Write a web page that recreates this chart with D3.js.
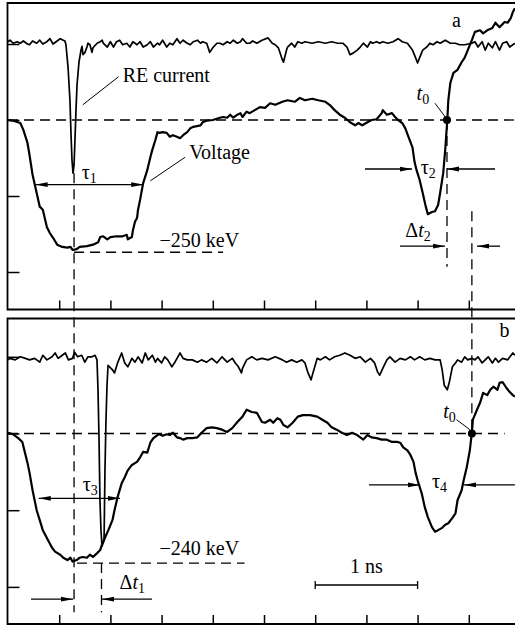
<!DOCTYPE html>
<html>
<head>
<meta charset="utf-8">
<title>RE current and voltage</title>
<script src="https://d3js.org/d3.v7.min.js"></script>
<style>
  body { margin: 0; background: #fff; }
  text { font-family: "Liberation Serif", "Times New Roman", serif; font-size: 20px; fill: #000; }
</style>
</head>
<body>
<script>
// time in ns, signals in scope divisions (0 = base line)
var tickTimes = [0.5, 1, 1.5, 2, 2.5, 3, 3.5, 4, 4.5];
var tickDivs = [-2, -1, 0, 1];

// panel a
var curA = [[0.00,1.03],[0.02,1.05],[0.05,1.01],[0.09,1.03],[0.12,1.01],[0.15,1.04],[0.19,1.00],[0.21,0.99],
  [0.24,1.04],[0.28,1.01],[0.31,1.05],[0.34,1.00],[0.38,1.03],[0.41,1.07],[0.44,1.00],[0.48,1.04],[0.51,1.07],
  [0.54,1.05],[0.556,1.04],[0.566,0.99],[0.586,0.70],[0.605,0.26],[0.615,-0.17],[0.625,-0.53],[0.635,-0.70],
  [0.645,-0.59],[0.654,-0.26],[0.664,0.13],[0.674,0.46],[0.693,0.76],[0.713,0.92],[0.723,0.97],[0.732,0.86],
  [0.752,0.89],[0.771,0.96],[0.781,1.01],[0.80,0.99],[0.82,0.89],[0.83,0.95],[0.87,1.01],[0.90,1.03],[0.92,1.05],
  [0.93,1.01],[0.97,0.96],[1.00,1.03],[1.03,0.96],[1.06,1.03],[1.09,1.05],[1.12,0.99],[1.16,1.01],[1.19,0.96],
  [1.22,1.03],[1.26,0.99],[1.29,1.03],[1.32,0.96],[1.36,0.99],[1.39,1.03],[1.42,0.96],[1.46,1.01],[1.48,0.99],
  [1.51,1.05],[1.55,0.96],[1.58,1.01],[1.61,0.99],[1.65,1.07],[1.68,1.01],[1.71,1.05],[1.75,1.01],[1.78,0.99],
  [1.81,1.03],[1.85,1.05],[1.88,1.01],[1.90,1.03],[1.94,1.01],[1.97,0.89],[2.00,0.95],[2.04,1.01],[2.07,1.01],
  [2.10,0.99],[2.14,1.03],[2.17,1.01],[2.20,1.05],[2.24,1.01],[2.27,1.03],[2.29,1.07],[2.33,1.01],[2.36,1.01],
  [2.39,1.04],[2.43,1.01],[2.48,1.05],[2.54,1.08],[2.58,1.01],[2.61,0.99],[2.64,0.95],[2.68,0.79],[2.69,0.76],
  [2.72,0.92],[2.73,0.96],[2.77,1.01],[2.80,0.96],[2.83,1.03],[2.87,1.01],[2.90,1.03],[2.97,1.01],[3.03,1.03],
  [3.10,1.01],[3.16,1.03],[3.22,1.01],[3.27,1.01],[3.31,0.96],[3.34,0.86],[3.37,0.88],[3.41,0.92],[3.44,0.96],
  [3.47,1.01],[3.51,0.96],[3.54,1.03],[3.56,1.01],[3.60,1.03],[3.63,1.01],[3.66,1.03],[3.71,1.01],[3.76,1.03],
  [3.81,1.07],[3.85,1.03],[3.90,1.01],[3.95,0.92],[3.98,0.82],[4.00,0.75],[4.02,0.82],[4.05,0.92],[4.09,0.96],
  [4.12,1.01],[4.15,0.99],[4.19,1.03],[4.22,1.01],[4.27,1.05],[4.32,1.01],[4.37,1.01],[4.41,0.99],[4.46,0.99],
  [4.53,1.01],[4.56,1.03],[4.59,0.96],[4.63,1.03],[4.66,0.92],[4.69,1.01],[4.73,0.95],[4.76,1.03],[4.80,0.92],
  [4.83,1.01],[4.87,1.03],[4.90,0.96],[4.95,1.01]];

var volA = [[0.00,0.00],[0.05,-0.01],[0.12,-0.04],[0.15,-0.13],[0.19,-0.30],[0.21,-0.46],[0.24,-0.72],[0.28,-0.96],
  [0.31,-1.14],[0.34,-1.18],[0.38,-1.41],[0.41,-1.49],[0.44,-1.55],[0.48,-1.64],[0.53,-1.67],[0.58,-1.68],
  [0.61,-1.67],[0.63,-1.71],[0.67,-1.70],[0.70,-1.67],[0.77,-1.66],[0.83,-1.64],[0.88,-1.61],[0.90,-1.54],
  [0.93,-1.53],[0.97,-1.57],[1.00,-1.54],[1.06,-1.53],[1.12,-1.53],[1.16,-1.51],[1.17,-1.57],[1.21,-1.54],
  [1.22,-1.45],[1.24,-1.34],[1.26,-1.29],[1.27,-1.18],[1.29,-1.05],[1.32,-0.83],[1.36,-0.66],[1.39,-0.49],
  [1.41,-0.39],[1.44,-0.26],[1.46,-0.16],[1.48,-0.17],[1.51,-0.16],[1.55,-0.17],[1.58,-0.22],[1.61,-0.20],
  [1.65,-0.22],[1.68,-0.24],[1.71,-0.20],[1.75,-0.16],[1.78,-0.11],[1.81,-0.09],[1.88,-0.07],[1.90,-0.03],
  [1.94,-0.01],[2.00,0.00],[2.07,0.03],[2.10,0.04],[2.14,0.03],[2.17,0.07],[2.20,0.03],[2.24,0.07],[2.27,0.09],
  [2.29,0.04],[2.33,0.11],[2.36,0.09],[2.41,0.13],[2.46,0.17],[2.51,0.16],[2.56,0.22],[2.61,0.20],[2.68,0.24],
  [2.73,0.26],[2.80,0.24],[2.85,0.29],[2.90,0.26],[2.97,0.28],[3.03,0.26],[3.10,0.24],[3.14,0.20],[3.19,0.13],
  [3.24,0.07],[3.29,0.03],[3.34,-0.03],[3.39,-0.07],[3.42,-0.04],[3.46,-0.07],[3.51,-0.03],[3.55,0.00],
  [3.60,0.01],[3.65,0.09],[3.66,0.13],[3.70,0.07],[3.75,0.09],[3.78,0.04],[3.81,0.00],[3.85,-0.04],[3.88,-0.11],
  [3.91,-0.22],[3.95,-0.36],[3.97,-0.55],[3.99,-0.66],[4.02,-0.79],[4.05,-0.96],[4.08,-1.14],[4.10,-1.24],
  [4.14,-1.21],[4.17,-1.20],[4.20,-1.12],[4.22,-0.96],[4.25,-0.70],[4.27,-0.39],[4.29,0.00],[4.30,0.26],
  [4.32,0.49],[4.35,0.62],[4.39,0.66],[4.43,0.76],[4.46,0.82],[4.49,0.92],[4.53,1.05],[4.56,1.16],[4.61,1.18],
  [4.64,1.14],[4.68,1.18],[4.73,1.21],[4.76,1.28],[4.80,1.22],[4.85,1.29],[4.88,1.28],[4.91,1.34],[4.93,1.42],
  [4.95,1.47]];

// panel b
var curB = [[0.00,0.96],[0.02,0.98],[0.07,0.96],[0.12,1.00],[0.17,0.98],[0.21,0.96],[0.26,0.98],[0.31,0.93],
  [0.34,1.02],[0.38,0.96],[0.43,1.00],[0.46,1.05],[0.49,0.98],[0.53,1.02],[0.56,1.05],[0.59,0.96],[0.63,0.98],
  [0.65,1.06],[0.68,1.00],[0.72,1.02],[0.75,0.93],[0.78,1.00],[0.82,1.00],[0.85,1.02],[0.869,0.96],[0.879,0.57],
  [0.889,-0.08],[0.898,-0.87],[0.908,-1.26],[0.918,-1.47],[0.938,-1.39],[0.947,-0.48],[0.957,0.18],[0.967,0.63],
  [0.977,0.89],[1.02,0.83],[1.04,0.79],[1.07,0.92],[1.11,1.05],[1.14,0.92],[1.17,0.87],[1.21,0.98],[1.24,0.93],
  [1.27,1.00],[1.31,0.92],[1.34,1.05],[1.37,0.96],[1.41,1.02],[1.44,0.93],[1.46,0.98],[1.50,0.92],[1.53,1.00],
  [1.56,0.96],[1.60,0.87],[1.63,0.93],[1.68,1.05],[1.71,0.98],[1.75,0.96],[1.80,0.96],[1.85,0.93],[1.89,0.96],
  [1.94,0.93],[1.99,0.98],[2.04,0.92],[2.09,1.00],[2.14,0.93],[2.19,0.98],[2.22,0.92],[2.25,0.87],[2.28,0.79],
  [2.29,0.85],[2.33,0.96],[2.38,1.00],[2.43,0.96],[2.48,0.98],[2.54,0.96],[2.61,1.00],[2.68,0.96],[2.72,0.93],
  [2.77,0.96],[2.82,0.93],[2.87,0.96],[2.90,0.92],[2.93,0.79],[2.96,0.70],[2.98,0.80],[3.02,0.98],[3.05,0.96],
  [3.10,1.00],[3.14,0.96],[3.19,1.00],[3.24,1.02],[3.29,1.05],[3.34,1.02],[3.39,0.98],[3.44,1.00],[3.49,0.93],
  [3.54,0.98],[3.58,0.92],[3.61,0.80],[3.63,0.76],[3.66,0.85],[3.70,0.96],[3.73,1.00],[3.78,0.93],[3.83,0.98],
  [3.88,0.96],[3.93,1.00],[3.97,0.96],[4.02,1.00],[4.07,0.96],[4.12,0.98],[4.17,0.96],[4.22,0.96],[4.24,0.83],
  [4.26,0.63],[4.29,0.57],[4.31,0.67],[4.34,0.87],[4.37,0.92],[4.39,0.96],[4.43,0.93],[4.46,1.00],[4.49,0.96],
  [4.53,0.98],[4.56,0.96],[4.59,1.00],[4.63,0.92],[4.66,0.96],[4.69,1.00],[4.73,0.92],[4.76,0.98],[4.79,0.93],
  [4.83,0.98],[4.88,0.96],[4.93,1.05],[4.95,1.02]];

var volB = [[0.00,0.01],[0.05,-0.01],[0.10,-0.06],[0.14,-0.11],[0.16,-0.22],[0.19,-0.38],[0.21,-0.51],[0.24,-0.74],
  [0.28,-1.00],[0.31,-1.13],[0.34,-1.26],[0.39,-1.39],[0.43,-1.49],[0.46,-1.54],[0.51,-1.58],[0.54,-1.62],
  [0.58,-1.65],[0.61,-1.62],[0.63,-1.67],[0.67,-1.65],[0.70,-1.62],[0.73,-1.61],[0.77,-1.62],[0.80,-1.58],
  [0.83,-1.61],[0.87,-1.56],[0.90,-1.52],[0.92,-1.44],[0.95,-1.35],[0.98,-1.26],[1.02,-1.13],[1.04,-1.00],
  [1.07,-0.83],[1.11,-0.65],[1.14,-0.57],[1.17,-0.48],[1.21,-0.41],[1.26,-0.37],[1.29,-0.31],[1.32,-0.24],
  [1.36,-0.25],[1.39,-0.12],[1.42,-0.06],[1.46,-0.02],[1.48,-0.01],[1.51,-0.03],[1.55,-0.01],[1.58,-0.02],
  [1.61,0.01],[1.65,-0.05],[1.68,-0.06],[1.71,-0.08],[1.75,-0.06],[1.80,-0.06],[1.85,-0.05],[1.89,0.01],
  [1.94,0.07],[1.99,0.08],[2.04,0.07],[2.09,0.05],[2.14,0.02],[2.19,0.07],[2.24,0.15],[2.29,0.22],[2.33,0.31],
  [2.38,0.28],[2.43,0.27],[2.48,0.15],[2.51,0.14],[2.56,0.18],[2.59,0.14],[2.63,0.20],[2.66,0.18],[2.69,0.11],
  [2.73,0.08],[2.78,0.14],[2.83,0.22],[2.88,0.24],[2.95,0.24],[3.02,0.22],[3.07,0.18],[3.12,0.14],[3.16,0.08],
  [3.21,0.05],[3.26,0.01],[3.31,-0.02],[3.36,0.01],[3.41,-0.02],[3.44,-0.05],[3.47,-0.08],[3.51,-0.02],
  [3.55,-0.05],[3.60,-0.06],[3.65,-0.08],[3.70,-0.08],[3.75,-0.11],[3.80,-0.11],[3.83,-0.12],[3.86,-0.18],
  [3.90,-0.22],[3.93,-0.28],[3.96,-0.37],[3.98,-0.51],[4.00,-0.61],[4.04,-0.78],[4.07,-0.96],[4.10,-1.09],
  [4.14,-1.22],[4.17,-1.28],[4.20,-1.26],[4.24,-1.23],[4.27,-1.19],[4.30,-1.17],[4.34,-1.10],[4.37,-1.04],
  [4.39,-0.87],[4.43,-0.74],[4.45,-0.61],[4.48,-0.44],[4.51,-0.22],[4.53,0.01],[4.54,0.18],[4.58,0.31],
  [4.61,0.40],[4.64,0.53],[4.68,0.50],[4.71,0.57],[4.74,0.61],[4.78,0.57],[4.80,0.66],[4.83,0.67],[4.87,0.59],
  [4.90,0.54],[4.93,0.50],[4.95,0.48]];

var width = 515;
var height = 627;

var svg = d3.select("body")
  .append("svg")
  .attr("width", width)
  .attr("height", height);

var x = d3.scaleLinear()
  .domain([0, 5])
  .range([8, 520]);

var panels = [
  { name: "a", top: 3, bottom: 309.5, cur: curA, vol: volA,
    y: d3.scaleLinear().domain([0, -1]).range([120, 196]) },
  { name: "b", top: 318.5, bottom: 624, cur: curB, vol: volB,
    y: d3.scaleLinear().domain([0, -1]).range([433.5, 510.2]) }
];
var pa = panels[0], pb = panels[1];

var defs = svg.append("defs");
defs.append("marker")
    .attr("id", "arr")
    .attr("viewBox", "0 0 12 6")
    .attr("refX", 12).attr("refY", 3)
    .attr("markerWidth", 12).attr("markerHeight", 6)
    .attr("markerUnits", "userSpaceOnUse")
    .attr("orient", "auto-start-reverse")
  .append("path")
    .attr("d", "M0,0.6 L12,3 L0,5.4 Z")
    .attr("fill", "#000");

// frames and ticks
panels.forEach(function(p) {
  svg.append("path")
    .attr("d", "M520," + p.top + "H7.5V" + p.bottom + "H520")
    .attr("fill", "none").attr("stroke", "#000").attr("stroke-width", 1.8);

  svg.append("g")
      .attr("transform", "translate(0," + p.bottom + ")")
      .call(d3.axisBottom(x).tickValues(tickTimes).tickSize(-9).tickFormat(""))
      .call(function(g) { g.select(".domain").remove(); })
      .selectAll("line").attr("stroke-width", 1.5);

  svg.append("g")
      .attr("transform", "translate(7.5,0)")
      .call(d3.axisLeft(p.y).tickValues(tickDivs).tickSize(-12).tickFormat(""))
      .call(function(g) { g.select(".domain").remove(); })
      .selectAll("line").attr("stroke-width", 1.5);
});

function dash(x1, y1, x2, y2) {
  svg.append("line")
    .attr("x1", x1).attr("y1", y1).attr("x2", x2).attr("y2", y2)
    .attr("stroke", "#000").attr("stroke-width", 1.3)
    .attr("stroke-dasharray", "10,6");
}

// base lines and level lines
dash(x(0), pa.y(0), x(4.95), pa.y(0));
dash(x(0), pb.y(0), x(4.85), pb.y(0));
dash(x(0.645), pa.y(-1.74), x(2.10), pa.y(-1.74));
dash(x(0.674), pb.y(-1.69), x(2.31), pb.y(-1.69));

// vertical markers
dash(x(0.645), pa.y(-0.70), x(0.645), pb.y(-2.33));
dash(x(0.913), pb.y(-1.69), x(0.913), pb.y(-2.33));
dash(x(4.287), pa.y(0), x(4.287), pa.y(-1.93));
dash(x(4.53), pa.y(-1.20), x(4.53), pb.y(0));

// traces
panels.forEach(function(p) {
  var line = d3.line()
    .x(function(d) { return x(d[0]); })
    .y(function(d) { return p.y(d[1]); });

  svg.append("path")
    .datum(p.cur)
    .attr("d", line)
    .attr("fill", "none").attr("stroke", "#000")
    .attr("stroke-width", 1.7).attr("stroke-linejoin", "round");

  svg.append("path")
    .datum(p.vol)
    .attr("d", line)
    .attr("fill", "none").attr("stroke", "#000")
    .attr("stroke-width", 2.2).attr("stroke-linejoin", "round");
});

function arrow(p, t1, t2, v, both) {
  var l = svg.append("line")
    .attr("x1", x(t1)).attr("y1", p.y(v))
    .attr("x2", x(t2)).attr("y2", p.y(v))
    .attr("stroke", "#000").attr("stroke-width", 1.3)
    .attr("marker-end", "url(#arr)");
  if (both) l.attr("marker-start", "url(#arr)");
}

function leader(p, t1, v1, t2, v2) {
  svg.append("line")
    .attr("x1", x(t1)).attr("y1", p.y(v1))
    .attr("x2", x(t2)).attr("y2", p.y(v2))
    .attr("stroke", "#000").attr("stroke-width", 1);
}

function label(p, t, v, pieces, anchor, size) {
  var txt = svg.append("text")
    .attr("x", x(t)).attr("y", p.y(v))
    .attr("text-anchor", anchor || "start")
    .attr("font-size", size || null);
  pieces.forEach(function(s) {
    txt.append("tspan")
      .text(s.s)
      .attr("font-style", s.i ? "italic" : null)
      .attr("font-size", s.sub ? 14 : null)
      .attr("dy", s.dy || 0);
  });
}

// widths
arrow(pa, 0.27, 1.32, -0.85, true);
arrow(pa, 3.486, 3.945, -0.645);
arrow(pa, 4.756, 4.287, -0.645);
arrow(pa, 3.828, 4.268, -1.66);
arrow(pa, 4.805, 4.58, -1.66);
arrow(pb, 0.30, 1.094, -0.845, true);
arrow(pb, 3.525, 4.023, -0.67);
arrow(pb, 4.95, 4.453, -0.67);
arrow(pb, 0.225, 0.635, -2.16);
arrow(pb, 1.406, 0.918, -2.16);

// 1 ns bar
svg.append("path")
  .attr("d", "M" + x(3) + "," + (pb.y(-1.975) - 4) + "v8M" + x(3) + "," + pb.y(-1.975) +
             "H" + x(4) + "M" + x(4) + "," + (pb.y(-1.975) - 4) + "v8")
  .attr("fill", "none").attr("stroke", "#000").attr("stroke-width", 1.3);
label(pb, 3.5, -1.82, [{ s: "1 ns" }], "middle");

// t0 points
svg.append("circle").attr("cx", x(4.287)).attr("cy", pa.y(0)).attr("r", 4);
svg.append("circle").attr("cx", x(4.53)).attr("cy", pb.y(0)).attr("r", 4);
leader(pa, 4.17, 0.22, 4.27, 0.04);
leader(pb, 4.38, 0.18, 4.51, 0.05);
label(pa, 3.99, 0.26, [{ s: "t", i: true }, { s: "0", sub: true, dy: 4 }]);
label(pb, 4.25, 0.20, [{ s: "t", i: true }, { s: "0", sub: true, dy: 4 }]);

// text labels
leader(pa, 0.73, 0.20, 1.08, 0.57);
label(pa, 1.12, 0.50, [{ s: "RE current" }], "start", 21.5);
leader(pa, 1.39, -0.80, 1.73, -0.49);
label(pa, 1.77, -0.51, [{ s: "Voltage" }], "start", 21.5);
label(pa, 1.48, -1.67, [{ s: "\u2212250 keV" }]);
label(pb, 1.48, -1.58, [{ s: "\u2212240 keV" }]);
label(pa, 4.336, 1.22, [{ s: "a" }]);
label(pb, 4.80, 1.26, [{ s: "b" }]);

label(pa, 0.72, -0.78, [{ s: "\u03c4" }, { s: "1", sub: true, dy: 4 }]);
label(pa, 4.03, -0.71, [{ s: "\u03c4" }, { s: "2", sub: true, dy: 4 }]);
label(pb, 0.73, -0.75, [{ s: "\u03c4" }, { s: "3", sub: true, dy: 4 }]);
label(pb, 4.14, -0.71, [{ s: "\u03c4" }, { s: "4", sub: true, dy: 4 }]);
label(pa, 3.88, -1.54, [{ s: "\u0394" }, { s: "t", i: true }, { s: "2", sub: true, dy: 4 }]);
label(pb, 1.09, -2.03, [{ s: "\u0394" }, { s: "t", i: true }, { s: "1", sub: true, dy: 4 }]);
</script>
</body>
</html>
